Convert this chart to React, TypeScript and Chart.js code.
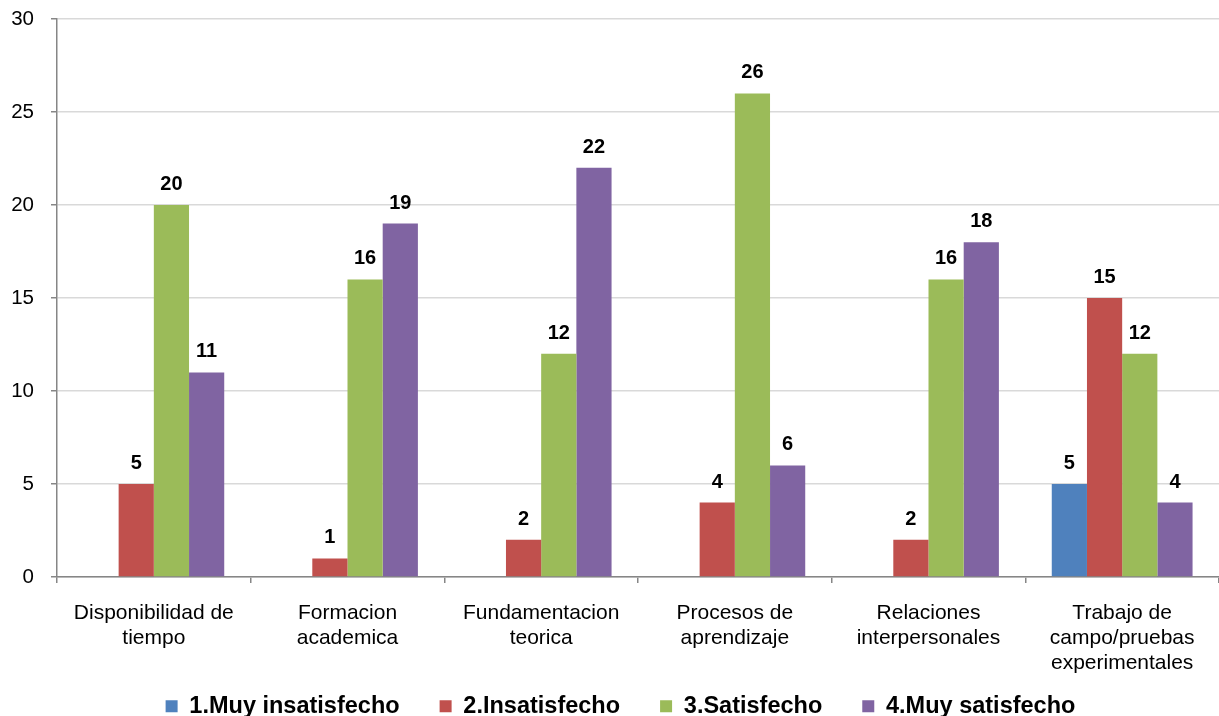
import React, { useEffect, useRef } from "react";
import { Chart, registerables } from "chart.js";

Chart.register(...registerables);

const categories: string[][] = [
  ["Disponibilidad de", "tiempo"],
  ["Formacion", "academica"],
  ["Fundamentacion", "teorica"],
  ["Procesos de", "aprendizaje"],
  ["Relaciones", "interpersonales"],
  ["Trabajo de", "campo/pruebas", "experimentales"],
];
const seriesNames = ["1.Muy insatisfecho", "2.Insatisfecho", "3.Satisfecho", "4.Muy satisfecho"];
const muyInsatisfecho = [0, 0, 0, 0, 0, 5];
const insatisfecho = [5, 1, 2, 4, 2, 15];
const satisfecho = [20, 16, 12, 26, 16, 12];
const muySatisfecho = [11, 19, 22, 6, 18, 4];
const colors = ["#4F81BD", "#C0504D", "#9BBB59", "#8064A2"];

const FONT = "'Liberation Sans', Arial, sans-serif";

const valueLabels = {
  id: "valueLabels",
  afterDatasetsDraw(chart: any) {
    const ctx = chart.ctx;
    ctx.save();
    ctx.font = `bold 20px ${FONT}`;
    ctx.fillStyle = "#000";
    ctx.textAlign = "center";
    ctx.textBaseline = "alphabetic";
    chart.data.datasets.forEach((ds: any, i: number) => {
      const meta = chart.getDatasetMeta(i);
      meta.data.forEach((el: any, j: number) => {
        const v = ds.data[j];
        if (!v) return;
        ctx.fillText(String(v), el.x, el.y - 15);
      });
    });
    ctx.restore();
  },
};

// let the multi-line category labels overlap the legend band, and nudge the legend
const layoutTweaks = {
  id: "layoutTweaks",
  afterLayout(chart: any) {
    const x = chart.scales.x;
    if (x) x.bottom = chart.height;
    const lg = chart.legend;
    if (lg) {
      lg.left += 10;
      lg.right += 10;
      lg.top += 2;
      lg.bottom += 2;
    }
  },
};

export default function App() {
  const ref = useRef<HTMLCanvasElement | null>(null);
  useEffect(() => {
    document.body.style.margin = "0";
    const values = [muyInsatisfecho, insatisfecho, satisfecho, muySatisfecho];
    const chart = new Chart(ref.current as HTMLCanvasElement, {
      type: "bar",
      data: {
        labels: categories as any,
        datasets: values.map((d, i) => ({
          label: seriesNames[i],
          data: d,
          backgroundColor: colors[i],
          borderWidth: 0,
          categoryPercentage: 0.727,
          barPercentage: 1,
        })),
      },
      options: {
        responsive: false,
        animation: false,
        layout: { padding: { left: 0, right: -2, top: 0, bottom: 0 } },
        plugins: {
          tooltip: { enabled: false },
          legend: {
            position: "bottom",
            maxHeight: 63.5,
            labels: {
              boxWidth: 12,
              boxHeight: 12,
              padding: 40,
              color: "#000",
              font: { family: FONT, size: 23.5, weight: "bold" },
            },
          },
        },
        scales: {
          x: {
            afterFit: (scale: any) => {
              scale.height = 75.5;
            },
            grid: {
              drawOnChartArea: false,
              drawTicks: true,
              tickLength: 6,
              color: "#868686",
              lineWidth: 1.5,
              offset: true,
            },
            border: { color: "#868686", width: 1.5 },
            ticks: {
              color: "#000",
              padding: 17.5,
              maxRotation: 0,
              autoSkip: false,
              font: { family: FONT, size: 21, lineHeight: 1.19 },
            },
          },
          y: {
            min: 0,
            max: 30,
            afterFit: (scale: any) => {
              scale.width = 57;
              scale.paddingTop = 19;
              scale.paddingBottom = 0;
            },
            ticks: {
              stepSize: 5,
              color: "#000",
              padding: 17,
              font: { family: FONT, size: 20.5 },
            },
            grid: {
              color: "#D9D9D9",
              lineWidth: 1.5,
              tickColor: "#868686",
              tickLength: 6,
            },
            border: { color: "#868686", width: 1.5 },
          },
        },
      } as any,
      plugins: [valueLabels, layoutTweaks],
    });
    return () => chart.destroy();
  }, []);
  return (
    <div style={{ position: "fixed", left: 0, top: 0, width: 1219, height: 716, background: "#fff" }}>
      <canvas ref={ref} width={1219} height={716} />
    </div>
  );
}
